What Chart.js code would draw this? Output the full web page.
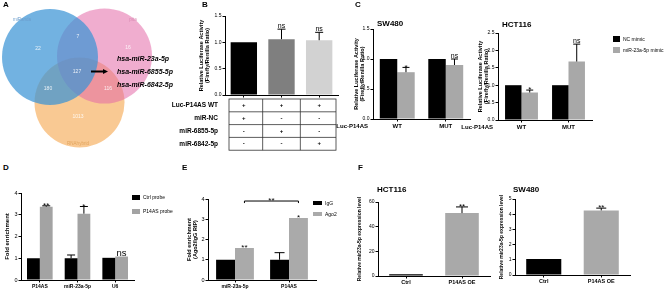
<!DOCTYPE html>
<html>
<head>
<meta charset="utf-8">
<script src="https://cdn.jsdelivr.net/npm/chart.js@4.4.1/dist/chart.umd.min.js"></script>
<style>
  body { margin: 0; background: #fff; width: 669px; height: 292px; overflow: hidden; position: relative; font-family: "Liberation Sans", Arial, sans-serif; }
  canvas { position: absolute; }
  .t { position: absolute; white-space: nowrap; line-height: 1; color: #000; }
  .box { position: absolute; }
</style>
</head>
<body>
<script>
// ---- data ----
const vennSets = ['miRanda', 'pita', 'RNAhybrid'];
const vennRegions = [22, 7, 16, 127, 180, 116, 1013];
const vennTargets = ['hsa-miR-23a-5p', 'hsa-miR-6855-5p', 'hsa-miR-6842-5p'];

const lucGroups = ['miR-NC', 'miR-6855-5p', 'miR-6842-5p'];
const lucValues = [1.0, 1.06, 1.04];
const lucErrors = [0, 0.19, 0.15];
const lucSig = ['', 'ns', 'ns'];
const tableRows = ['Luc-P14AS WT', 'miR-NC', 'miR-6855-5p', 'miR-6842-5p'];
const tableMarks = [['+', '+', '+'], ['+', '-', '-'], ['-', '+', '-'], ['-', '-', '+']];

const mimicGroups = ['WT', 'MUT'];
const mimicSeries = ['NC mimic', 'miR-23a-5p mimic'];
const swNC = [1.0, 1.0];
const swMimic = [0.78, 0.9];
const swMimicErr = [0.08, 0.1];
const swSig = ['*', 'ns'];
const hctNC = [1.0, 1.0];
const hctMimic = [0.79, 1.68];
const hctMimicErr = [0.07, 0.5];
const hctSig = ['*', 'ns'];

const pullGroups = ['P14AS', 'miR-23a-5p', 'U6'];
const pullSeries = ['Ctrl probe', 'P14AS probe'];
const pullCtrl = [1.0, 1.0, 1.02];
const pullCtrlErr = [0, 0.15, 0];
const pullProbe = [3.37, 3.05, 1.08];
const pullProbeErr = [0.04, 0.33, 0];
const pullSig = ['**', '*', 'ns'];

const ripGroups = ['miR-23a-5p', 'P14AS'];
const ripSeries = ['IgG', 'Ago2'];
const ripIgG = [1.0, 1.0];
const ripIgGErr = [0, 0.35];
const ripAgo2 = [1.58, 3.06];
const ripSig = ['**', '*'];
const ripBracket = '**';

const oeGroups = ['Ctrl', 'P14AS OE'];
const oeHct = [1.5, 51];
const oeHctErr = [0, 5];
const oeSw = [1.05, 4.25];
const oeSwErr = [0, 0.15];
const oeSig = ['', '**'];

const FONT = '"Liberation Sans", Arial, sans-serif';
Chart.defaults.font.family = FONT;
Chart.defaults.color = '#000';

function addCanvas(left, top, w, h) {
  const c = document.createElement('canvas');
  c.width = w; c.height = h;
  c.style.left = left + 'px'; c.style.top = top + 'px';
  document.body.appendChild(c);
  return c;
}

function text(str, x, cy, size, bold) {
  const d = document.createElement('div');
  d.className = 't';
  d.textContent = str;
  d.style.left = x + 'px';
  d.style.top = (cy - size * 0.49) + 'px';
  d.style.fontSize = size + 'px';
  if (bold) d.style.fontWeight = 'bold';
  document.body.appendChild(d);
}

function box(x, y, w, h, color) {
  const d = document.createElement('div');
  d.className = 'box';
  Object.assign(d.style, { left: x + 'px', top: y + 'px', width: w + 'px', height: h + 'px', background: color });
  document.body.appendChild(d);
}

// error bars, significance marks, table, bracket
function marks(m) {
  return {
    id: 'marks',
    afterDraw(chart) {
      const ctx = chart.ctx, a = chart.chartArea, xs = chart.scales.x, ys = chart.scales.y;
      ctx.save();
      ctx.strokeStyle = '#000';
      ctx.fillStyle = '#000';
      ctx.lineWidth = 1;
      chart.data.datasets.forEach((ds, di) => {
        const errs = (m.err || [])[di], sig = (m.sig || [])[di];
        chart.getDatasetMeta(di).data.forEach((bar, i) => {
          let top = ys.getPixelForValue(ds.data[i]);
          if (errs && errs[i]) {
            const ey = ys.getPixelForValue(ds.data[i] + errs[i]);
            ctx.beginPath();
            ctx.moveTo(bar.x, top); ctx.lineTo(bar.x, ey);
            ctx.moveTo(bar.x - m.cap, ey); ctx.lineTo(bar.x + m.cap, ey);
            ctx.stroke();
            top = ey;
          }
          if (sig && sig[i]) {
            const ns = sig[i] === 'ns';
            const size = ns ? m.nsSize : m.starSize;
            ctx.font = size + 'px ' + FONT;
            ctx.textAlign = 'center';
            ctx.textBaseline = 'alphabetic';
            ctx.fillText(sig[i], bar.x, ns ? top - 1 : top - 1 + 0.42 * size);
          }
        });
      });
      if (m.bracket) {
        const b = m.bracket, meta = chart.getDatasetMeta(b.ds);
        const x0 = meta.data[b.from].x, x1 = meta.data[b.to].x;
        const y = ys.getPixelForValue(b.y), yd = ys.getPixelForValue(b.y - b.drop);
        ctx.beginPath();
        ctx.moveTo(x0, yd); ctx.lineTo(x0, y); ctx.lineTo(x1, y); ctx.lineTo(x1, yd);
        ctx.stroke();
        ctx.font = m.starSize + 'px ' + FONT;
        ctx.textAlign = 'center';
        ctx.fillText(b.label, (x0 + x1) / 2, y - 1 + 0.42 * m.starSize);
      }
      if (m.table) {
        const n = chart.data.labels.length, bin = (a.right - a.left) / n;
        const rows = m.table.rows.length, rh = 12.8;
        const L = a.left + 4, R = a.right - 2, T = a.bottom + 4;
        ctx.strokeStyle = '#333';
        ctx.lineWidth = 0.8;
        ctx.strokeRect(L, T, R - L, rh * rows);
        ctx.beginPath();
        for (let r = 1; r < rows; r++) { ctx.moveTo(L, T + r * rh); ctx.lineTo(R, T + r * rh); }
        for (let c = 1; c < n; c++) { ctx.moveTo(a.left + c * bin, T); ctx.lineTo(a.left + c * bin, T + rows * rh); }
        ctx.stroke();
        ctx.textBaseline = 'middle';
        m.table.rows.forEach((lab, r) => {
          const cy = T + (r + 0.5) * rh;
          ctx.font = 'bold 6.5px ' + FONT;
          ctx.textAlign = 'right';
          ctx.fillText(lab, L - 11, cy);
          ctx.font = 'bold 6px ' + FONT;
          ctx.textAlign = 'center';
          m.table.marks[r].forEach((s, c) => ctx.fillText(s, xs.getPixelForValue(c), cy));
        });
      }
      if (m.rowLabel) {
        ctx.font = 'bold 6px ' + FONT;
        ctx.textAlign = 'right';
        ctx.textBaseline = 'middle';
        ctx.fillText(m.rowLabel, a.left - 5, a.bottom + 7.5);
      }
      ctx.restore();
    }
  };
}

function barChart(o) {
  const [x0, y0, x1, y1] = o.area;
  const p = Object.assign({ l: 2, r: 4, t: 14, b: 2 }, o.pad);
  const left = x0 - o.yW - p.l, top = y0 - p.t;
  const cv = addCanvas(left, top, x1 + p.r - left, y1 + o.xH + p.b - top);
  return new Chart(cv, {
    type: 'bar',
    data: { labels: o.labels, datasets: o.datasets },
    options: {
      responsive: false,
      animation: false,
      events: [],
      layout: { padding: { left: p.l, right: p.r, top: p.t, bottom: p.b } },
      plugins: { legend: { display: false }, tooltip: { enabled: false } },
      scales: {
        x: {
          grid: { display: true, offset: false, drawOnChartArea: false, tickLength: 2.5, color: '#000' },
          border: { color: '#000', width: 1 },
          ticks: {
            display: !o.hideX, color: '#000', padding: 1, maxRotation: 0, autoSkip: false,
            font: { size: o.xSize || 5, weight: 'bold' }
          },
          afterFit: s => { s.height = o.xH; }
        },
        y: {
          min: 0, max: o.max,
          grid: { drawOnChartArea: false, tickLength: 2.5, color: '#000' },
          border: { color: '#000', width: 1 },
          ticks: {
            stepSize: o.step, color: '#000', padding: 1, font: { size: o.tSize || 5 },
            callback: v => v.toFixed(o.dec || 0)
          },
          title: {
            display: true, text: o.yTitle, color: '#000', padding: 0,
            font: { size: o.titleSize || 5.5, weight: 'bold', lineHeight: 1.1 }
          },
          afterFit: s => { s.width = o.yW; }
        }
      }
    },
    plugins: [marks(o.marks)]
  });
}

// ---- A: Venn diagram as bubbles on a pixel-unit scale ----
const vennCircles = [
  { x: 50, y: 57, r: 48, c: 'rgba(60,148,214,0.72)' },
  { x: 104.5, y: 56, r: 47.5, c: 'rgba(228,105,168,0.55)' },
  { x: 79.5, y: 102.5, r: 45, c: 'rgba(245,165,75,0.6)' }
];
const vennSpots = [[38, 49], [78, 37], [128, 48], [77, 72], [48, 89], [108, 89], [78, 117]];
const vennNamePos = [[22, 20, '#6b9dcc'], [133, 20, '#d889b2'], [78, 144, '#e0a35c']];

new Chart(addCanvas(0, 0, 200, 160), {
  type: 'bubble',
  data: {
    datasets: vennCircles.map((c, i) => ({
      label: vennSets[i],
      data: [{ x: c.x, y: c.y, r: c.r }],
      backgroundColor: c.c,
      borderWidth: 0
    }))
  },
  options: {
    responsive: false, animation: false, events: [],
    layout: { padding: 0, autoPadding: false },
    plugins: { legend: { display: false }, tooltip: { enabled: false } },
    scales: {
      x: { type: 'linear', min: 0, max: 200, display: false },
      y: { type: 'linear', min: 0, max: 160, reverse: true, display: false }
    }
  },
  plugins: [{
    id: 'vennText',
    afterDraw(chart) {
      const ctx = chart.ctx, xs = chart.scales.x, ys = chart.scales.y;
      ctx.save();
      ctx.textAlign = 'center';
      ctx.textBaseline = 'middle';
      ctx.font = '4.5px ' + FONT;
      vennSets.forEach((s, i) => {
        ctx.fillStyle = vennNamePos[i][2];
        ctx.fillText(s, xs.getPixelForValue(vennNamePos[i][0]), ys.getPixelForValue(vennNamePos[i][1]));
      });
      ctx.fillStyle = 'rgba(255,255,255,0.85)';
      ctx.font = '5px ' + FONT;
      vennRegions.forEach((v, i) => {
        ctx.fillText(String(v), xs.getPixelForValue(vennSpots[i][0]), ys.getPixelForValue(vennSpots[i][1]));
      });
      ctx.fillStyle = '#000';
      ctx.textAlign = 'left';
      ctx.font = 'italic bold 7px ' + FONT;
      vennTargets.forEach((t, i) => {
        ctx.fillText(t, xs.getPixelForValue(117), ys.getPixelForValue(59 + i * 13));
      });
      // arrow to the list
      const ay = ys.getPixelForValue(71.5);
      ctx.strokeStyle = '#000';
      ctx.lineWidth = 2;
      ctx.beginPath();
      ctx.moveTo(xs.getPixelForValue(91), ay);
      ctx.lineTo(xs.getPixelForValue(104), ay);
      ctx.stroke();
      ctx.beginPath();
      ctx.moveTo(xs.getPixelForValue(108), ay);
      ctx.lineTo(xs.getPixelForValue(103), ay - 2.5);
      ctx.lineTo(xs.getPixelForValue(103), ay + 2.5);
      ctx.closePath();
      ctx.fill();
      ctx.restore();
    }
  }]
});

// ---- B: luciferase with table ----
barChart({
  area: [225, 16, 338, 95], yW: 27, xH: 57, pad: { l: 48, t: 16, r: 8 },
  labels: lucGroups, hideX: true, max: 1.5, step: 0.5, dec: 1,
  yTitle: ['Relative Luciferase Activity', '(Firefly/Renilla Ratio)'],
  datasets: [{ data: lucValues, backgroundColor: ['#000000', '#7f7f7f', '#d2d2d2'], barPercentage: 0.7, categoryPercentage: 1 }],
  marks: { err: [lucErrors], sig: [lucSig], cap: 4, nsSize: 7, starSize: 8, table: { rows: tableRows, marks: tableMarks } }
});

// ---- C: SW480 and HCT116 mimic ----
barChart({
  area: [373, 29, 470, 119], yW: 20, xH: 12, pad: { l: 20, t: 22 },
  labels: mimicGroups, max: 1.5, step: 0.5, dec: 1, xSize: 6,
  yTitle: ['Relative Luciferase Activity', '(Firefly/Renilla Ratio)'],
  datasets: [
    { label: mimicSeries[0], data: swNC, backgroundColor: '#000', barPercentage: 1, categoryPercentage: 0.72 },
    { label: mimicSeries[1], data: swMimic, backgroundColor: '#a8a8a8', barPercentage: 1, categoryPercentage: 0.72 }
  ],
  marks: { err: [null, swMimicErr], sig: [null, swSig], cap: 3.5, nsSize: 7, starSize: 8, rowLabel: 'Luc-P14AS' }
});
barChart({
  area: [498, 33, 592, 120], yW: 21, xH: 12, pad: { l: 26, t: 24 },
  labels: mimicGroups, max: 2.5, step: 0.5, dec: 1, xSize: 6,
  yTitle: ['Relative Luciferase Activity', '(Firefly/Renilla Ratio)'],
  datasets: [
    { label: mimicSeries[0], data: hctNC, backgroundColor: '#000', barPercentage: 1, categoryPercentage: 0.7 },
    { label: mimicSeries[1], data: hctMimic, backgroundColor: '#a8a8a8', barPercentage: 1, categoryPercentage: 0.7 }
  ],
  marks: { err: [null, hctMimicErr], sig: [null, hctSig], cap: 3.5, nsSize: 7, starSize: 8, rowLabel: 'Luc-P14AS' }
});

// ---- D: pull-down ----
barChart({
  area: [21, 193, 134, 280], yW: 17, xH: 12, pad: { t: 14 },
  labels: pullGroups, max: 4, step: 1, titleSize: 6, tSize: 5.5,
  yTitle: 'Fold enrichment',
  datasets: [
    { label: pullSeries[0], data: pullCtrl, backgroundColor: '#000', barPercentage: 1, categoryPercentage: 0.68 },
    { label: pullSeries[1], data: pullProbe, backgroundColor: '#a3a3a3', barPercentage: 1, categoryPercentage: 0.68 }
  ],
  marks: { err: [pullCtrlErr, pullProbeErr], sig: [null, pullSig], cap: 4, nsSize: 9.5, starSize: 8 }
});

// ---- E: RIP ----
barChart({
  area: [208, 199, 316, 280], yW: 22, xH: 12, pad: { t: 22 },
  labels: ripGroups, max: 4, step: 1, titleSize: 5.5, tSize: 5.5,
  yTitle: ['Fold enrichment', '(Ago2/IgG RIP)'],
  datasets: [
    { label: ripSeries[0], data: ripIgG, backgroundColor: '#000', barPercentage: 1, categoryPercentage: 0.7 },
    { label: ripSeries[1], data: ripAgo2, backgroundColor: '#aaaaaa', barPercentage: 1, categoryPercentage: 0.7 }
  ],
  marks: {
    err: [ripIgGErr, null], sig: [null, ripSig], cap: 5, nsSize: 7, starSize: 8,
    bracket: { ds: 1, from: 0, to: 1, y: 3.9, drop: 0.1, label: ripBracket }
  }
});

// ---- F: overexpression ----
barChart({
  area: [378, 202, 490, 276], yW: 21, xH: 12, pad: { t: 14 },
  labels: oeGroups, max: 60, step: 20, xSize: 5.5, titleSize: 5,
  yTitle: 'Relative mir23a-5p expression level',
  datasets: [{ data: oeHct, backgroundColor: ['#000', '#a9a9a9'], barPercentage: 0.6, categoryPercentage: 1 }],
  marks: { err: [oeHctErr], sig: [oeSig], cap: 6, nsSize: 7, starSize: 8 }
});
barChart({
  area: [515, 199, 630, 275], yW: 16, xH: 12, pad: { t: 12 },
  labels: oeGroups, max: 5, step: 1, xSize: 5.5, titleSize: 5,
  yTitle: 'Relative mir23a-5p expression level',
  datasets: [{ data: oeSw, backgroundColor: ['#000', '#a9a9a9'], barPercentage: 0.61, categoryPercentage: 1 }],
  marks: { err: [oeSwErr], sig: [oeSig], cap: 5, nsSize: 7, starSize: 8 }
});

// ---- panel letters, titles, legends ----
[['A', 3, 5], ['B', 202, 5], ['C', 355, 5], ['D', 3, 168], ['E', 182, 168], ['F', 358, 168]]
  .forEach(([s, x, y]) => text(s, x, y, 8, true));
text('SW480', 377, 24, 8, true);
text('HCT116', 502, 25, 8, true);
text('HCT116', 377, 190, 8, true);
text('SW480', 513, 190, 8, true);

box(613, 36, 7, 6, '#000'); text(mimicSeries[0], 623, 39, 5);
box(613, 47, 7, 6, '#a8a8a8'); text(mimicSeries[1], 623, 50, 5);
box(132, 195, 8, 5, '#000'); text(pullSeries[0], 143, 197.5, 5);
box(132, 209, 8, 5, '#a3a3a3'); text(pullSeries[1], 143, 211.5, 5);
box(313, 201, 9, 4, '#000'); text(ripSeries[0], 325, 203, 5);
box(313, 212, 9, 4, '#aaaaaa'); text(ripSeries[1], 325, 214, 5);
</script>
</body>
</html>
